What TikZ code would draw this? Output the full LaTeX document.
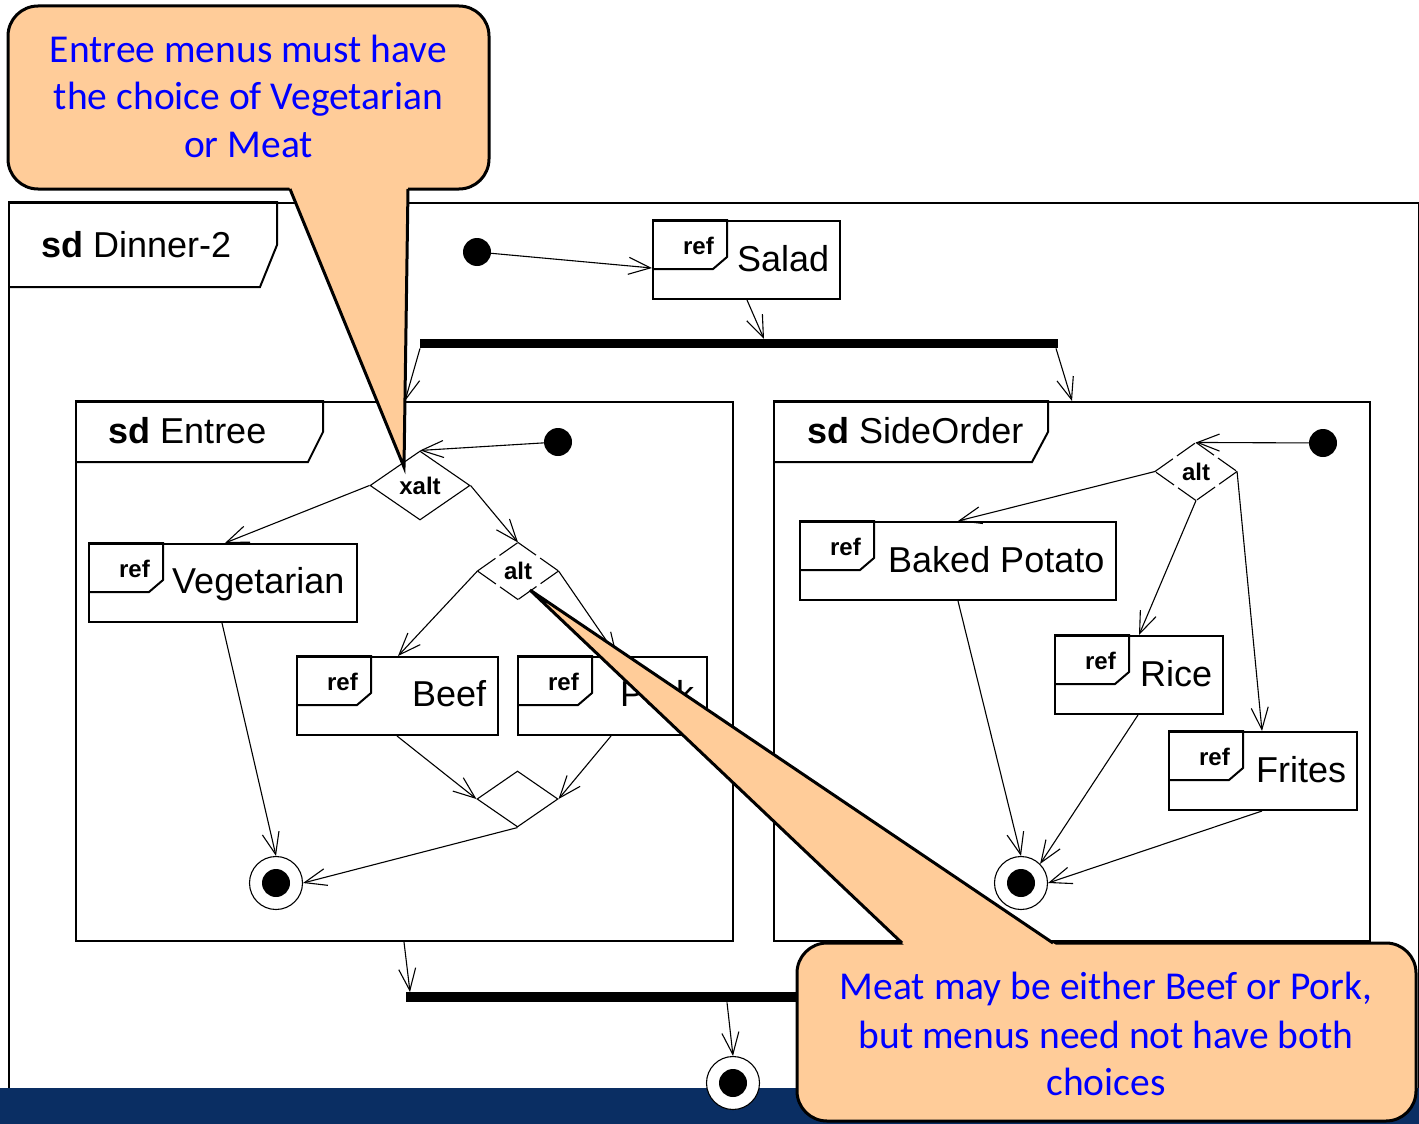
\documentclass[tikz,border=0pt]{standalone}
\usepackage{fontspec}
\setmainfont{Liberation Sans}
\newfontfamily\calib{Carlito}
\usetikzlibrary{arrows.meta,shapes.geometric,calc}
\definecolor{peach}{RGB}{255,204,153}
\definecolor{navybar}{RGB}{10,46,99}
\newcommand\reftag[1]{%
  \draw[tagline] (#1.north west) -- ++(75,0) -- ++(0,37) -- ++(-14,12) -- ++(-61,0);
  \node[reftxt] (#1-ref) at ([xshift=62pt,yshift=-34pt]#1.north west) {ref};}
\begin{document}
\begin{tikzpicture}[x=1pt,y=-1pt,
  frame/.style={draw, line width=2pt, rectangle, inner sep=0pt, anchor=north west},
  refbox/.style={draw, line width=2pt, rectangle, inner sep=0pt, anchor=north west, minimum height=78pt},
  tagline/.style={line width=2pt, line join=miter},
  lbl/.style={font=\fontsize{36}{40}\selectfont, anchor=base west, inner sep=0pt},
  reftxt/.style={font=\fontsize{24}{28}\selectfont\bfseries, anchor=base east, inner sep=0pt},
  conn/.style={line width=1.1pt, -{Straight Barb[length=22pt,width=17pt]}},
  init/.style={circle, fill=black, minimum size=28pt, inner sep=0pt},
  final/.style={circle, draw, fill=white, line width=1.1pt, minimum size=53pt, inner sep=0pt,
     path picture={\fill[black] (path picture bounding box.center) circle (14pt);}},
  dec/.style={diamond, aspect=1.4, inner sep=0pt, line width=1.1pt, font=\fontsize{24}{28}\selectfont\bfseries},
  altedge/.style={line width=1.1pt, dash pattern=on 22pt off 5pt},
  bar/.style={rectangle, fill=black, inner sep=0pt, anchor=north west, minimum height=9pt},
  callout/.style={fill=peach, draw=black, line width=3pt, rounded corners=30pt},
  pointer/.style={line width=3pt, line join=miter},
  note/.style={font=\calib\fontsize{39.5}{48}\selectfont, text=blue, anchor=base, inner sep=0pt}
]
\useasboundingbox (0,0) rectangle (1419,1124);
\fill[white] (0,0) rectangle (1419,1124);

% ---------- outer frame ----------
\node[frame, minimum width=1410pt, minimum height=900pt] (dinner) at (8,202) {};
\draw[tagline] (dinner.north west) -- ++(269,0) -- ++(0,43) -- ++(-17,42) -- ++(-252,0);
\node[lbl] (dinnerlbl) at (41,257) {\textbf{sd} Dinner-2};

\node[init] (dinit) at (477,252) {};
\node[refbox, minimum width=187pt] (salad) at (652,220) {};
\reftag{salad}
\node[lbl] (saladtxt) at (737,271) {Salad};

\node[bar, minimum width=638pt] (fork) at (420,339) {};

% ---------- Entree ----------
\node[frame, minimum width=657pt, minimum height=539pt] (entree) at (75,401) {};
\draw[tagline] (entree.north west) -- ++(248,0) -- ++(0,31) -- ++(-15,30) -- ++(-233,0);
\node[lbl] (entreelbl) at (108,443) {\textbf{sd} Entree};

\node[init] (einit) at (558,442) {};
\node[dec, draw, minimum width=100pt, minimum height=69pt] (xalt) at (420,485.5) {xalt};
\node[dec, minimum width=80pt, minimum height=56pt] (ealt) at (518,571) {alt};
\draw[altedge] (ealt.north) -- (ealt.east) (ealt.east) -- (ealt.south)
               (ealt.south) -- (ealt.west) (ealt.west) -- (ealt.north);

\node[refbox, minimum width=268pt] (veg) at (88,543) {};
\reftag{veg}
\node[lbl] (vegtxt) at (172,593) {Vegetarian};

\node[refbox, minimum width=201pt] (beef) at (296,656) {};
\reftag{beef}
\node[lbl] (beeftxt) at (412,706) {Beef};

\node[refbox, minimum width=189pt] (pork) at (517,656) {};
\reftag{pork}
\node[lbl] (porktxt) at (620,706) {Pork};

\node[dec, draw, minimum width=81pt, minimum height=56pt] (merge) at (517.5,799) {};
\node[final] (efinal) at (276,883) {};

% ---------- SideOrder ----------
\node[frame, minimum width=596pt, minimum height=539pt] (side) at (773,401) {};
\draw[tagline] (side.north west) -- ++(275,0) -- ++(0,31) -- ++(-16,30) -- ++(-259,0);
\node[lbl] (sidelbl) at (807,443) {\textbf{sd} SideOrder};

\node[init] (sinit) at (1323,443) {};
\node[dec, minimum width=81pt, minimum height=57pt] (salt) at (1196,471.5) {alt};
\draw[altedge] (salt.north) -- (salt.east) (salt.east) -- (salt.south)
               (salt.south) -- (salt.west) (salt.west) -- (salt.north);

\node[refbox, minimum width=316pt] (bp) at (799,521) {};
\reftag{bp}
\node[lbl] (bptxt) at (888,572) {Baked Potato};

\node[refbox, minimum width=168pt] (rice) at (1054,635) {};
\reftag{rice}
\node[lbl] (ricetxt) at (1140,686) {Rice};

\node[refbox, minimum width=188pt] (frites) at (1168,731) {};
\reftag{frites}
\node[lbl] (fritestxt) at (1256,782) {Frites};

\node[final] (sfinal) at (1021,883) {};

% ---------- join ----------
\node[bar, minimum width=640pt, minimum height=10pt] (join) at (406,992) {};

% ---------- connectors ----------
\draw[conn] (dinit) -- ([yshift=-48pt]salad.north west);
\draw[conn] ([xshift=95pt]salad.south west) -- ([xshift=344pt]fork.north west);
\draw[conn] (fork.south west) -- ([xshift=330pt]entree.north west);
\draw[conn] ([xshift=636pt]fork.south west) -- ([xshift=299pt]side.north west);

\draw[conn] (einit) -- (xalt.north);
\draw[conn] (xalt.west) -- ([xshift=137pt]veg.north west);
\draw[conn] (xalt.east) -- (ealt.north);
\draw[conn] (ealt.west) -- ([xshift=102pt]beef.north west);
\draw[conn] (ealt.east) -- ([xshift=100pt]pork.north west);
\draw[conn] ([xshift=101pt]beef.south west) -- (merge.west);
\draw[conn] ([xshift=94pt]pork.south west) -- (merge.east);
\draw[conn] (merge.south) -- (efinal.east);
\draw[conn] ([xshift=134pt]veg.south west) -- (efinal.north);

\draw[conn] (sinit) -- (salt.north);
\draw[conn] (salt.west) -- ([xshift=159pt]bp.north west);
\draw[conn] (salt.south) -- ([xshift=85pt]rice.north west);
\draw[conn] (salt.east) -- ([xshift=94pt]frites.north west);
\draw[conn] ([xshift=159pt]bp.south west) -- (sfinal.north);
\draw[conn] ([xshift=84pt]rice.south west) -- (sfinal.north east);
\draw[conn] ([xshift=94pt]frites.south west) -- (sfinal.east);

\draw[conn] ([xshift=329pt]entree.south west) -- ([xshift=4pt]join.north west);

% ---------- footer bar ----------
\fill[navybar] (0,1088) rectangle (1419,1124);
\node[final] (dfinal) at (733,1083) {};
\draw[conn] ([xshift=321pt]join.south west) -- (dfinal.north);

% ---------- callouts ----------
\filldraw[callout] (8,6) rectangle (489,189);
\fill[peach] (404,467) -- (288.8,186) -- (408,186) -- cycle;
\draw[pointer] (290,189) -- (404,467) -- (408,189);
\node[note] (n1a) at (248.5,63) {Entree menus must have};
\node[note] (n1b) at (248.5,110) {the choice of Vegetarian};
\node[note] (n1c) at (248.5,157) {or Meat};

\filldraw[callout] (797,943) rectangle (1416,1121);
\fill[peach] (530,590) -- (905.2,946) -- (1057.4,946) -- cycle;
\draw[pointer] (902,943) -- (530,590) -- (1053,943);
\node[note] (n2a) at (1106,999) {Meat may be either Beef or Pork,};
\node[note] (n2b) at (1106,1048) {but menus need not have both};
\node[note] (n2c) at (1106,1095) {choices};
\end{tikzpicture}
\end{document}
